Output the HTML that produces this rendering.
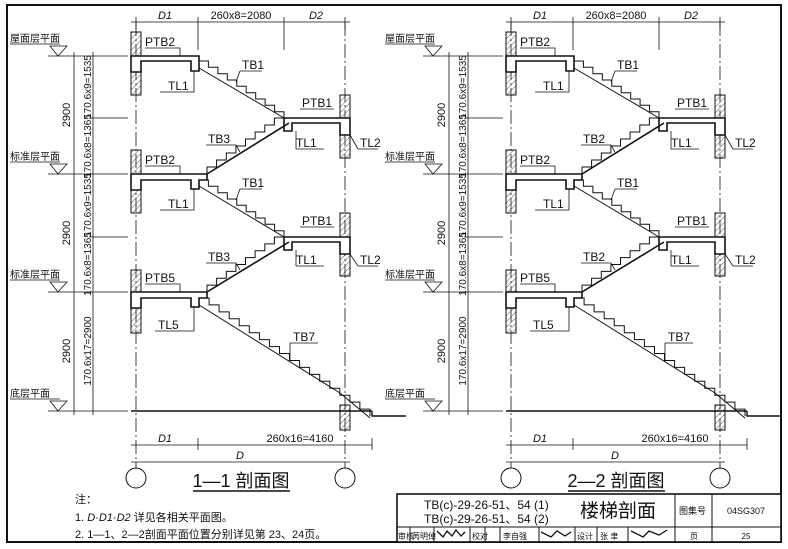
<!DOCTYPE html>
<html><head><meta charset="utf-8"><style>
html,body{margin:0;padding:0;background:#fff;width:788px;height:549px;overflow:hidden}
svg{display:block}
text{font-family:"Liberation Sans","Noto Sans CJK SC",sans-serif;fill:#111}
</style></head><body>
<svg id="s" width="788" height="549" viewBox="0 0 788 549" xmlns="http://www.w3.org/2000/svg">
<defs>
<pattern id="h" width="4" height="4" patternUnits="userSpaceOnUse" patternTransform="rotate(45)"><line x1="0" y1="0" x2="0" y2="4" stroke="#333" stroke-width="0.8"/></pattern>
</defs>
<rect x="7" y="5" width="774" height="537" fill="none" stroke="#111" stroke-width="2"/>
<g id="sec1" stroke="#111" fill="none" stroke-width="1">
<line x1="131" y1="22" x2="350" y2="22" stroke-width="0.8"/>
<line x1="136" y1="17" x2="136" y2="30" stroke-width="0.8"/><line x1="198" y1="17" x2="198" y2="50" stroke-width="0.8"/><line x1="284" y1="17" x2="284" y2="50" stroke-width="0.8"/><line x1="345" y1="17" x2="345" y2="30" stroke-width="0.8"/>
<line x1="136" y1="22" x2="136" y2="468" stroke-width="0.8" stroke-dasharray="14,3,2,3"/>
<line x1="345" y1="22" x2="345" y2="468" stroke-width="0.8" stroke-dasharray="14,3,2,3"/>
<rect x="131" y="32" width="10" height="63" fill="url(#h)"/>
<rect x="131" y="150" width="10" height="63" fill="url(#h)"/>
<rect x="131" y="270" width="10" height="63" fill="url(#h)"/>
<rect x="340" y="95" width="10" height="63" fill="url(#h)"/>
<rect x="340" y="213" width="10" height="63" fill="url(#h)"/>
<rect x="340" y="405" width="10" height="25" fill="url(#h)"/>
<path d="M131 56 H199 V71 H191 V61 H141 V72 H131 Z" fill="#fff" stroke-width="1.6"/>
<path d="M131 174 H207 V180 H199 V189 H191 V180 H141 V190 H131 Z" fill="#fff" stroke-width="1.6"/>
<path d="M131 292 H207 V298 H199 V307 H191 V298 H141 V308 H131 Z" fill="#fff" stroke-width="1.6"/>
<path d="M284 118 H350 V135 H340 V123 H292 V131 H284 Z" fill="#fff" stroke-width="1.6"/>
<path d="M284 237 H350 V254 H340 V242 H292 V250 H284 Z" fill="#fff" stroke-width="1.6"/>
<path d="M131 411 H372 M372 411 L372 416 H406" stroke-width="1.4"/>
<line x1="199" y1="68" x2="284" y2="118"/>
<line x1="207" y1="174" x2="289" y2="123" stroke-width="1.6"/>
<line x1="199" y1="186" x2="284" y2="237"/>
<line x1="207" y1="292" x2="289" y2="242" stroke-width="1.6"/>
<line x1="199" y1="305" x2="340" y2="393"/>
<path d="M340 393 L370 418"/>
<g class="steps"></g>
<g stroke-width="0.8">
<line x1="10" y1="44" x2="60" y2="44"/><path d="M50 46 L67 46 L58 56 Z"/><line x1="48" y1="56" x2="128" y2="56"/>
<line x1="10" y1="162" x2="60" y2="162"/><path d="M50 164 L67 164 L58 174 Z"/><line x1="48" y1="174" x2="128" y2="174"/>
<line x1="10" y1="280" x2="60" y2="280"/><path d="M50 282 L67 282 L58 292 Z"/><line x1="48" y1="292" x2="128" y2="292"/>
<line x1="10" y1="399" x2="60" y2="399"/><path d="M50 401 L67 401 L58 411 Z"/><line x1="48" y1="411" x2="128" y2="411"/>
<line x1="90" y1="118" x2="128" y2="118"/><line x1="90" y1="237" x2="128" y2="237"/>
<line x1="74" y1="52" x2="74" y2="415"/><line x1="93" y1="52" x2="93" y2="415"/>
<line x1="131" y1="445" x2="372" y2="445"/><line x1="198" y1="438" x2="198" y2="450"/><line x1="372" y1="438" x2="372" y2="450"/>
<line x1="131" y1="462" x2="350" y2="462"/>
</g>
<circle cx="136" cy="478" r="10"/><circle cx="345" cy="478" r="10"/>
<line x1="193" y1="491" x2="290" y2="491" stroke-width="1.4"/>
<g stroke-width="0.8">
<path d="M145 48 H180 V56"/><path d="M240 71 H262 M240 71 L236 82"/><path d="M160 92 H194 V71"/>
<path d="M300 109 H334"/><path d="M296 149 H324 M296 149 V131"/><path d="M358 149 H378 M358 149 L350 135"/>
<path d="M206 145 H236 L240 152"/>
<path d="M145 166 H180 V174"/><path d="M240 189 H262 M240 189 L236 200"/><path d="M160 210 H194 V189"/>
<path d="M300 227 H334"/><path d="M296 266 H324 M296 266 V250"/><path d="M358 266 H378 M358 266 L350 254"/>
<path d="M206 263 H236 L240 270"/>
<path d="M145 284 H180 V292"/><path d="M155 331 H194 V307"/><path d="M290 343 H318 M290 343 V360"/>
</g>
</g>
<g id="txt1" fill="#111" font-size="11">
<text x="165" y="19" font-style="italic" text-anchor="middle">D1</text>
<text x="241" y="19" text-anchor="middle">260x8=2080</text>
<text x="316" y="19" font-style="italic" text-anchor="middle">D2</text>
<text x="145" y="46" font-size="12">PTB2</text>
<text x="242" y="69" font-size="12">TB1</text>
<text x="168" y="90" font-size="12">TL1</text>
<text x="302" y="107" font-size="12">PTB1</text>
<text x="296" y="147" font-size="12">TL1</text>
<text x="360" y="147" font-size="12">TL2</text>
<text x="145" y="164" font-size="12">PTB2</text>
<text x="242" y="187" font-size="12">TB1</text>
<text x="168" y="208" font-size="12">TL1</text>
<text x="302" y="225" font-size="12">PTB1</text>
<text x="296" y="264" font-size="12">TL1</text>
<text x="360" y="264" font-size="12">TL2</text>
<text x="145" y="282" font-size="12">PTB5</text>
<text x="158" y="329" font-size="12">TL5</text>
<text x="293" y="341" font-size="12">TB7</text>
<text x="165" y="442" font-style="italic" text-anchor="middle">D1</text>
<text x="300" y="442" text-anchor="middle">260x16=4160</text>
<text x="240" y="459" font-style="italic" text-anchor="middle">D</text>
<text x="70" y="115" transform="rotate(-90 70 115)" text-anchor="middle">2900</text>
<text x="70" y="233" transform="rotate(-90 70 233)" text-anchor="middle">2900</text>
<text x="70" y="351" transform="rotate(-90 70 351)" text-anchor="middle">2900</text>
<g font-size="10">
<text x="91" y="87" transform="rotate(-90 91 87)" text-anchor="middle">170.6x9=1535</text>
<text x="91" y="146" transform="rotate(-90 91 146)" text-anchor="middle">170.6x8=1365</text>
<text x="91" y="205" transform="rotate(-90 91 205)" text-anchor="middle">170.6x9=1535</text>
<text x="91" y="264" transform="rotate(-90 91 264)" text-anchor="middle">170.6x8=1365</text>
<text x="91" y="351" transform="rotate(-90 91 351)" text-anchor="middle">170.6x17=2900</text>
</g>
<text x="10" y="42" font-size="10">屋面层平面</text>
<text x="10" y="160" font-size="10">标准层平面</text>
<text x="10" y="278" font-size="10">标准层平面</text>
<text x="10" y="397" font-size="10">底层平面</text>
</g>
<g fill="#111" font-size="11">
<text x="208" y="143" font-size="12">TB3</text>
<text x="208" y="261" font-size="12">TB3</text>
<text x="583" y="143" font-size="12">TB2</text>
<text x="583" y="261" font-size="12">TB2</text>
<text x="241" y="487" font-size="18" text-anchor="middle">1—1 剖面图</text>
<text x="616" y="487" font-size="18" text-anchor="middle">2—2 剖面图</text>
<text x="75" y="503" font-size="11">注：</text>
<text x="75" y="521" font-size="11">1. <tspan font-style="italic">D·D1·D2</tspan> 详见各相关平面图。</text>
<text x="75" y="538" font-size="11">2. 1—1、2—2剖面平面位置分别详见第 23、24页。</text>
</g>
<use href="#sec1" transform="translate(375 0)"/>
<use href="#txt1" transform="translate(375 0)"/>
<g stroke="#111" fill="none">
<rect x="397" y="494" width="384" height="48" fill="#fff" stroke-width="1.6"/>
<line x1="397" y1="527" x2="781" y2="527"/>
<line x1="675" y1="494" x2="675" y2="542"/><line x1="712" y1="494" x2="712" y2="542"/>
<line x1="410" y1="527" x2="410" y2="542"/><line x1="434" y1="527" x2="434" y2="542"/><line x1="470" y1="527" x2="470" y2="542"/><line x1="485" y1="527" x2="485" y2="542"/><line x1="500" y1="527" x2="500" y2="542"/><line x1="539" y1="527" x2="539" y2="542"/><line x1="575" y1="527" x2="575" y2="542"/><line x1="597" y1="527" x2="597" y2="542"/><line x1="628" y1="527" x2="628" y2="542"/>
<path d="M437 531 l6 6 l4 -6 l5 5 l4 -6 l5 6 l4 -4 M541 532 l10 5 l6 -6 l8 5 l6 -4 M631 531 l12 6 l6 -6 l10 4 l8 -5" stroke-width="1.3"/>
</g>
<g fill="#111">
<text x="424" y="509" font-size="12">TB(c)-29-26-51、54 (1)</text>
<text x="424" y="523" font-size="12">TB(c)-29-26-51、54 (2)</text>
<text x="580" y="517" font-size="19">楼梯剖面</text>
<text x="679" y="514" font-size="9">图集号</text>
<text x="746" y="514" font-size="9" text-anchor="middle">04SG307</text>
<text x="398" y="539" font-size="8">审核</text><text x="412" y="539" font-size="8">苪明倬</text>
<text x="472" y="539" font-size="8">校对</text><text x="503" y="539" font-size="8">李自强</text>
<text x="577" y="539" font-size="8">设计</text><text x="600" y="539" font-size="8">张 聿</text>
<text x="690" y="539" font-size="8">页</text><text x="746" y="539" font-size="8" text-anchor="middle">25</text>
</g>
</svg>
<script>
(function(){
var g=document.querySelector('#sec1 .steps');var ns='http://www.w3.org/2000/svg';
function st(x0,y0,x1,y1,n,down){
 var d='M'+x0+' '+y0,t=(x1-x0)/n,r=(y1-y0)/n,x=x0,y=y0;
 for(var i=0;i<n;i++){ if(down){x+=t;d+=' H'+x.toFixed(1);y+=r;d+=' V'+y.toFixed(1);} else {y+=r;d+=' V'+y.toFixed(1);x+=t;d+=' H'+x.toFixed(1);} }
 var p=document.createElementNS(ns,'path');p.setAttribute('d',d);p.setAttribute('stroke-width','1');g.appendChild(p);}
st(199,61,284,118,9,true);
st(207,174,284,118,8,false);
st(199,180,284,237,9,true);
st(207,292,284,237,8,false);
st(199,298,370,416,17,true);
})();
</script>
</body></html>
